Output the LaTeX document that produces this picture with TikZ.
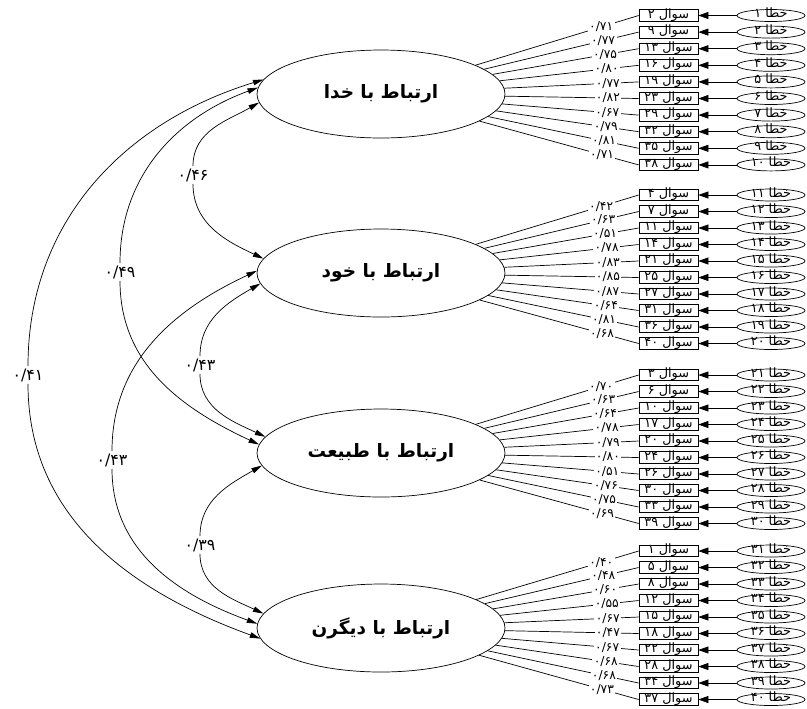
\documentclass[tikz,border=0pt]{standalone}
\usepackage{fontspec}
\usepackage{tikz}
\usetikzlibrary{shapes.geometric,arrows.meta}
\newfontfamily\fa[Script=Arabic]{DejaVu Sans}
\TeXXeTstate=1

\begin{document}
\begin{tikzpicture}[x=0.02cm,y=-0.02cm,
        fac/.style={draw,ellipse,minimum width=4.96cm,minimum height=1.76cm,font=\fa\bfseries\fontsize{10.5}{12}\selectfont},
        item/.style={draw,rectangle,minimum width=1.18cm,minimum height=0.23cm,inner sep=0pt,text height=1.4mm,text depth=0.4mm,font=\fa\fontsize{7.3}{8}\selectfont},
        err/.style={draw,ellipse,minimum width=1.36cm,minimum height=0.24cm,inner sep=0pt,text height=1.1mm,text depth=0.3mm,font=\fa\fontsize{7.3}{8}\selectfont},
        lab/.style={fill=white,inner sep=0.8pt,font=\fa\fontsize{7}{8}\selectfont},
        cor/.style={fill=white,inner sep=1.2pt,font=\fa\fontsize{9}{10}\selectfont},
        ctip/.style={-{Triangle[length=2.1mm,width=1.1mm]}},
        etip/.style={-{Triangle[length=2mm,width=1.4mm]}}]
        \useasboundingbox (0,0) rectangle (807,708);
        % factors
        \node[fac] (F1) at (381,94) {\beginR ارتباط با خدا\endR};
        \node[fac] (F2) at (381,273) {\beginR ارتباط با خود\endR};
        \node[fac] (F3) at (381,453) {\beginR ارتباط با طبیعت\endR};
        \node[fac] (F4) at (381,628) {\beginR ارتباط با دیگرن\endR};
        % correlations
        \node[cor] (c46) at (193,175) {۰/۴۶};
        \draw[ctip] (c46) to[out=90,in=210] (F1.184);
        \draw[ctip] (c46) to[out=-90,in=155] (F2.173);
        \node[cor] (c49) at (120,272) {۰/۴۹};
        \draw[ctip] (c49) to[out=90,in=200] (F1.177);
        \draw[ctip] (c49) to[out=-90,in=155] (F3.176);
        \node[cor] (c41) at (28,375) {۰/۴۱};
        \draw[ctip] (c41) to[out=90,in=197] (F1.173);
        \draw[ctip] (c41) to[out=-90,in=160] (F4.185);
        \node[cor] (c43a) at (200,365) {۰/۴۳};
        \draw[ctip] (c43a) to[out=90,in=210] (F2.185);
        \draw[ctip] (c43a) to[out=-90,in=155] (F3.172);
        \node[cor] (c43b) at (112,460) {۰/۴۳};
        \draw[ctip] (c43b) to[out=90,in=205] (F2.179);
        \draw[ctip] (c43b) to[out=-90,in=160] (F4.178);
        \node[cor] (c39) at (200,545) {۰/۳۹};
        \draw[ctip] (c39) to[out=90,in=210] (F3.186);
        \draw[ctip] (c39) to[out=-90,in=155] (F4.173);
        % items of F1
        \node[item] (q2) at (668.5,15.5) {\beginR سوال ۲\endR};
        \node[err] (e1) at (771,15.5) {\beginR خطا ۱\endR};
        \draw[etip] (e1) -- (q2);
        \draw (F1) -- node[lab,pos=.77] {۰/۷۱} (q2.west);
        \node[item] (q9) at (668.5,32.1) {\beginR سوال ۹\endR};
        \node[err] (e2) at (771,32.1) {\beginR خطا ۲\endR};
        \draw[etip] (e2) -- (q9);
        \draw (F1) -- node[lab,pos=.77] {۰/۷۷} (q9.west);
        \node[item] (q13) at (668.5,48.7) {\beginR سوال ۱۳\endR};
        \node[err] (e3) at (771,48.7) {\beginR خطا ۳\endR};
        \draw[etip] (e3) -- (q13);
        \draw (F1) -- node[lab,pos=.77] {۰/۷۵} (q13.west);
        \node[item] (q16) at (668.5,65.3) {\beginR سوال ۱۶\endR};
        \node[err] (e4) at (771,65.3) {\beginR خطا ۴\endR};
        \draw[etip] (e4) -- (q16);
        \draw (F1) -- node[lab,pos=.77] {۰/۸۰} (q16.west);
        \node[item] (q19) at (668.5,81.9) {\beginR سوال ۱۹\endR};
        \node[err] (e5) at (771,81.9) {\beginR خطا ۵\endR};
        \draw[etip] (e5) -- (q19);
        \draw (F1) -- node[lab,pos=.77] {۰/۷۷} (q19.west);
        \node[item] (q23) at (668.5,98.5) {\beginR سوال ۲۳\endR};
        \node[err] (e6) at (771,98.5) {\beginR خطا ۶\endR};
        \draw[etip] (e6) -- (q23);
        \draw (F1) -- node[lab,pos=.77] {۰/۸۲} (q23.west);
        \node[item] (q29) at (668.5,115.1) {\beginR سوال ۲۹\endR};
        \node[err] (e7) at (771,115.1) {\beginR خطا ۷\endR};
        \draw[etip] (e7) -- (q29);
        \draw (F1) -- node[lab,pos=.77] {۰/۶۷} (q29.west);
        \node[item] (q32) at (668.5,131.7) {\beginR سوال ۳۲\endR};
        \node[err] (e8) at (771,131.7) {\beginR خطا ۸\endR};
        \draw[etip] (e8) -- (q32);
        \draw (F1) -- node[lab,pos=.77] {۰/۷۹} (q32.west);
        \node[item] (q35) at (668.5,148.3) {\beginR سوال ۳۵\endR};
        \node[err] (e9) at (771,148.3) {\beginR خطا ۹\endR};
        \draw[etip] (e9) -- (q35);
        \draw (F1) -- node[lab,pos=.77] {۰/۸۱} (q35.west);
        \node[item] (q38) at (668.5,164.9) {\beginR سوال ۳۸\endR};
        \node[err] (e10) at (771,164.9) {\beginR خطا ۱۰\endR};
        \draw[etip] (e10) -- (q38);
        \draw (F1) -- node[lab,pos=.77] {۰/۷۱} (q38.west);
        % items of F2
        \node[item] (q4) at (668.5,195) {\beginR سوال ۴\endR};
        \node[err] (e11) at (771,195) {\beginR خطا ۱۱\endR};
        \draw[etip] (e11) -- (q4);
        \draw (F2) -- node[lab,pos=.77] {۰/۴۲} (q4.west);
        \node[item] (q7) at (668.5,211.5) {\beginR سوال ۷\endR};
        \node[err] (e12) at (771,211.5) {\beginR خطا ۱۲\endR};
        \draw[etip] (e12) -- (q7);
        \draw (F2) -- node[lab,pos=.77] {۰/۶۳} (q7.west);
        \node[item] (q11) at (668.5,228) {\beginR سوال ۱۱\endR};
        \node[err] (e13) at (771,228) {\beginR خطا ۱۳\endR};
        \draw[etip] (e13) -- (q11);
        \draw (F2) -- node[lab,pos=.77] {۰/۵۱} (q11.west);
        \node[item] (q14) at (668.5,244.5) {\beginR سوال ۱۴\endR};
        \node[err] (e14) at (771,244.5) {\beginR خطا ۱۴\endR};
        \draw[etip] (e14) -- (q14);
        \draw (F2) -- node[lab,pos=.77] {۰/۷۸} (q14.west);
        \node[item] (q21) at (668.5,261) {\beginR سوال ۲۱\endR};
        \node[err] (e15) at (771,261) {\beginR خطا ۱۵\endR};
        \draw[etip] (e15) -- (q21);
        \draw (F2) -- node[lab,pos=.77] {۰/۸۳} (q21.west);
        \node[item] (q25) at (668.5,277.5) {\beginR سوال ۲۵\endR};
        \node[err] (e16) at (771,277.5) {\beginR خطا ۱۶\endR};
        \draw[etip] (e16) -- (q25);
        \draw (F2) -- node[lab,pos=.77] {۰/۸۵} (q25.west);
        \node[item] (q27) at (668.5,294) {\beginR سوال ۲۷\endR};
        \node[err] (e17) at (771,294) {\beginR خطا ۱۷\endR};
        \draw[etip] (e17) -- (q27);
        \draw (F2) -- node[lab,pos=.77] {۰/۸۷} (q27.west);
        \node[item] (q31) at (668.5,310.5) {\beginR سوال ۳۱\endR};
        \node[err] (e18) at (771,310.5) {\beginR خطا ۱۸\endR};
        \draw[etip] (e18) -- (q31);
        \draw (F2) -- node[lab,pos=.77] {۰/۶۴} (q31.west);
        \node[item] (q36) at (668.5,327) {\beginR سوال ۳۶\endR};
        \node[err] (e19) at (771,327) {\beginR خطا ۱۹\endR};
        \draw[etip] (e19) -- (q36);
        \draw (F2) -- node[lab,pos=.77] {۰/۸۱} (q36.west);
        \node[item] (q40) at (668.5,343.5) {\beginR سوال ۴۰\endR};
        \node[err] (e20) at (771,343.5) {\beginR خطا ۲۰\endR};
        \draw[etip] (e20) -- (q40);
        \draw (F2) -- node[lab,pos=.77] {۰/۶۸} (q40.west);
        % items of F3
        \node[item] (q3) at (668.5,375) {\beginR سوال ۳\endR};
        \node[err] (e21) at (771,375) {\beginR خطا ۲۱\endR};
        \draw[etip] (e21) -- (q3);
        \draw (F3) -- node[lab,pos=.77] {۰/۷۰} (q3.west);
        \node[item] (q6) at (668.5,391.5) {\beginR سوال ۶\endR};
        \node[err] (e22) at (771,391.5) {\beginR خطا ۲۲\endR};
        \draw[etip] (e22) -- (q6);
        \draw (F3) -- node[lab,pos=.77] {۰/۶۳} (q6.west);
        \node[item] (q10) at (668.5,408) {\beginR سوال ۱۰\endR};
        \node[err] (e23) at (771,408) {\beginR خطا ۲۳\endR};
        \draw[etip] (e23) -- (q10);
        \draw (F3) -- node[lab,pos=.77] {۰/۶۴} (q10.west);
        \node[item] (q17) at (668.5,424.5) {\beginR سوال ۱۷\endR};
        \node[err] (e24) at (771,424.5) {\beginR خطا ۲۴\endR};
        \draw[etip] (e24) -- (q17);
        \draw (F3) -- node[lab,pos=.77] {۰/۷۸} (q17.west);
        \node[item] (q20) at (668.5,441) {\beginR سوال ۲۰\endR};
        \node[err] (e25) at (771,441) {\beginR خطا ۲۵\endR};
        \draw[etip] (e25) -- (q20);
        \draw (F3) -- node[lab,pos=.77] {۰/۷۹} (q20.west);
        \node[item] (q24) at (668.5,457.5) {\beginR سوال ۲۴\endR};
        \node[err] (e26) at (771,457.5) {\beginR خطا ۲۶\endR};
        \draw[etip] (e26) -- (q24);
        \draw (F3) -- node[lab,pos=.77] {۰/۸۰} (q24.west);
        \node[item] (q26) at (668.5,474) {\beginR سوال ۲۶\endR};
        \node[err] (e27) at (771,474) {\beginR خطا ۲۷\endR};
        \draw[etip] (e27) -- (q26);
        \draw (F3) -- node[lab,pos=.77] {۰/۵۱} (q26.west);
        \node[item] (q30) at (668.5,490.5) {\beginR سوال ۳۰\endR};
        \node[err] (e28) at (771,490.5) {\beginR خطا ۲۸\endR};
        \draw[etip] (e28) -- (q30);
        \draw (F3) -- node[lab,pos=.77] {۰/۷۶} (q30.west);
        \node[item] (q33) at (668.5,507) {\beginR سوال ۳۳\endR};
        \node[err] (e29) at (771,507) {\beginR خطا ۲۹\endR};
        \draw[etip] (e29) -- (q33);
        \draw (F3) -- node[lab,pos=.77] {۰/۷۵} (q33.west);
        \node[item] (q39) at (668.5,523.5) {\beginR سوال ۳۹\endR};
        \node[err] (e30) at (771,523.5) {\beginR خطا ۳۰\endR};
        \draw[etip] (e30) -- (q39);
        \draw (F3) -- node[lab,pos=.77] {۰/۶۹} (q39.west);
        % items of F4
        \node[item] (q1) at (668.5,551) {\beginR سوال ۱\endR};
        \node[err] (e31) at (771,551) {\beginR خطا ۳۱\endR};
        \draw[etip] (e31) -- (q1);
        \draw (F4) -- node[lab,pos=.77] {۰/۴۰} (q1.west);
        \node[item] (q5) at (668.5,567.5) {\beginR سوال ۵\endR};
        \node[err] (e32) at (771,567.5) {\beginR خطا ۳۲\endR};
        \draw[etip] (e32) -- (q5);
        \draw (F4) -- node[lab,pos=.77] {۰/۴۸} (q5.west);
        \node[item] (q8) at (668.5,584) {\beginR سوال ۸\endR};
        \node[err] (e33) at (771,584) {\beginR خطا ۳۳\endR};
        \draw[etip] (e33) -- (q8);
        \draw (F4) -- node[lab,pos=.77] {۰/۶۰} (q8.west);
        \node[item] (q12) at (668.5,600.5) {\beginR سوال ۱۲\endR};
        \node[err] (e34) at (771,600.5) {\beginR خطا ۳۴\endR};
        \draw[etip] (e34) -- (q12);
        \draw (F4) -- node[lab,pos=.77] {۰/۵۵} (q12.west);
        \node[item] (q15) at (668.5,617) {\beginR سوال ۱۵\endR};
        \node[err] (e35) at (771,617) {\beginR خطا ۳۵\endR};
        \draw[etip] (e35) -- (q15);
        \draw (F4) -- node[lab,pos=.77] {۰/۶۷} (q15.west);
        \node[item] (q18) at (668.5,633.5) {\beginR سوال ۱۸\endR};
        \node[err] (e36) at (771,633.5) {\beginR خطا ۳۶\endR};
        \draw[etip] (e36) -- (q18);
        \draw (F4) -- node[lab,pos=.77] {۰/۴۷} (q18.west);
        \node[item] (q22) at (668.5,650) {\beginR سوال ۲۲\endR};
        \node[err] (e37) at (771,650) {\beginR خطا ۳۷\endR};
        \draw[etip] (e37) -- (q22);
        \draw (F4) -- node[lab,pos=.77] {۰/۶۷} (q22.west);
        \node[item] (q28) at (668.5,666.5) {\beginR سوال ۲۸\endR};
        \node[err] (e38) at (771,666.5) {\beginR خطا ۳۸\endR};
        \draw[etip] (e38) -- (q28);
        \draw (F4) -- node[lab,pos=.77] {۰/۶۸} (q28.west);
        \node[item] (q34) at (668.5,683) {\beginR سوال ۳۴\endR};
        \node[err] (e39) at (771,683) {\beginR خطا ۳۹\endR};
        \draw[etip] (e39) -- (q34);
        \draw (F4) -- node[lab,pos=.77] {۰/۶۸} (q34.west);
        \node[item] (q37) at (668.5,699.5) {\beginR سوال ۳۷\endR};
        \node[err] (e40) at (771,699.5) {\beginR خطا ۴۰\endR};
        \draw[etip] (e40) -- (q37);
        \draw (F4) -- node[lab,pos=.77] {۰/۷۳} (q37.west);
\end{tikzpicture}
\end{document}
